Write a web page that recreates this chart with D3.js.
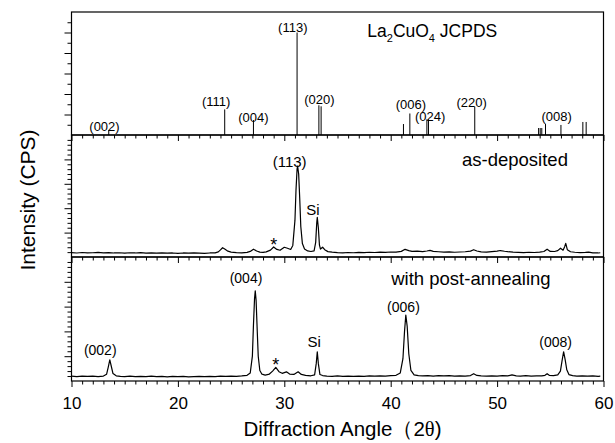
<!DOCTYPE html>
<html><head><meta charset="utf-8">
<script src="https://cdn.jsdelivr.net/npm/d3@7"></script>
<style>body{margin:0;background:#fff}svg{display:block;font-family:"Liberation Sans",Arial,sans-serif}</style>
</head><body><svg id="c" width="615" height="443"></svg>
<script>
// ---- data ----
const xTickLabels = [10, 20, 30, 40, 50, 60];
// JCPDS stick pattern: [2theta, relative intensity]
const jcpdsSticks = [[13.5,4.9],[24.4,25],[27.1,14.6],[31.2,100],[33.25,29],[33.46,28],[41.2,10.7],[41.8,21],
  [43.4,15.3],[43.55,15.3],[47.9,27.6],[53.9,6.8],[54.05,6.8],[54.2,6.8],[54.55,10.7],[56.0,9.8],[58.06,12.7],[58.37,12.7]];
const jcpdsLabels = [["(002)",13.1,3.9],["(111)",23.6,28.3],["(004)",27.1,13],["(113)",30.8,100.5],["(020)",33.3,30.2],
  ["(006)",41.9,25.4],["(024)",43.7,14],["(220)",47.6,27.6],["(008)",55.6,14]];
// as-deposited pattern
const asDeposited = [[10.0,3.6],[10.5,3.3],[11.0,3.7],[11.5,3.4],[12.0,3.5],[12.5,3.8],[13.0,3.4],[13.5,3.6],[14.0,3.3],[14.5,3.5],
  [15.0,3.2],[15.5,3.5],[16.0,3.3],[16.5,3.6],[17.0,3.2],[17.5,3.4],[18.0,3.1],[18.5,3.4],[19.0,3.2],[19.5,3.3],[20.0,3.0],
  [20.5,3.3],[21.0,3.1],[21.5,3.4],[22.0,3.2],[22.5,3.0],[23.0,3.3],[23.5,3.4],[23.8,4.2],[24.0,5.8],[24.2,7.6],[24.4,6.5],
  [24.7,4.8],[25.0,4.0],[25.5,3.6],[26.0,3.4],[26.5,3.8],[26.8,4.6],[27.1,6.4],[27.4,4.9],[27.7,4.0],[28.0,3.8],[28.3,4.2],
  [28.7,5.6],[29.0,8.2],[29.3,6.2],[29.6,5.5],[30.0,8.0],[30.3,7.2],[30.6,6.2],[30.8,9.5],[31.0,30],[31.1,55],[31.2,72],
  [31.25,74.6],[31.35,68],[31.45,48],[31.55,25],[31.7,11],[31.9,6.5],[32.2,5.0],[32.5,4.5],[32.8,5.0],[32.95,12],[33.05,28],
  [33.1,32.5],[33.2,24],[33.3,10],[33.4,6.5],[33.6,8.0],[33.8,6.0],[34.1,4.4],[34.5,4.0],[35.0,3.6],[35.5,3.4],[36.0,3.7],
  [36.5,3.5],[37.0,3.8],[37.5,3.6],[38.0,3.9],[38.5,3.7],[39.0,4.0],[39.5,3.8],[40.0,4.1],[40.5,4.0],[41.0,4.6],[41.35,6.3],
  [41.7,5.2],[42.0,4.6],[42.5,4.8],[43.0,4.4],[43.4,4.9],[43.7,5.4],[44.0,4.6],[44.5,4.3],[45.0,4.0],[45.5,4.2],[46.0,3.9],
  [46.5,4.1],[47.0,4.3],[47.5,4.8],[47.8,6.0],[48.1,4.9],[48.5,4.2],[49.0,4.0],[49.5,4.4],[50.0,4.8],[50.3,5.3],[50.7,4.7],
  [51.0,4.4],[51.5,4.0],[52.0,3.8],[52.5,3.6],[53.0,3.9],[53.5,3.7],[54.0,4.0],[54.4,4.5],[54.7,6.4],[55.0,4.6],[55.4,4.5],
  [55.7,5.2],[55.96,7.2],[56.2,5.6],[56.35,8.5],[56.45,11.2],[56.6,6.0],[56.9,4.3],[57.3,3.9],[57.8,3.6],[58.3,3.8],[58.6,4.0],
  [59.0,3.4],[59.5,3.3],[59.7,3.5]];
const asDepositedLabels = [["(113)",30.5,74,15],["Si",32.7,34.4,15],["*",29.0,5.0,18]];
// post-annealed pattern
const postAnnealed = [[10.0,3.9],[10.5,3.6],[11.0,4.0],[11.5,3.7],[12.0,3.9],[12.5,3.6],[13.0,4.0],[13.3,5.5],[13.45,11],[13.6,17],
  [13.75,11.5],[13.9,6.0],[14.2,4.2],[14.6,3.8],[15.0,3.6],[15.5,3.9],[16.0,3.5],[16.5,3.8],[17.0,3.6],[17.5,3.9],[18.0,3.5],
  [18.5,3.7],[19.0,3.4],[19.5,3.8],[20.0,3.5],[20.5,3.7],[21.0,3.4],[21.5,3.6],[22.0,3.8],[22.5,3.5],[23.0,3.7],[23.5,3.6],
  [24.0,3.9],[24.5,3.7],[25.0,4.0],[25.5,3.8],[26.0,4.1],[26.5,4.6],[26.8,6.5],[27.0,20],[27.1,45],[27.2,66],[27.27,72.8],
  [27.35,65],[27.45,42],[27.55,20],[27.7,8.5],[27.9,5.5],[28.2,4.8],[28.6,5.6],[28.9,8.0],[29.2,11.0],[29.5,7.5],[29.8,6.2],
  [30.2,7.4],[30.5,5.6],[30.9,5.3],[31.3,7.4],[31.6,5.3],[32.0,4.5],[32.5,4.2],[32.85,5.0],[33.0,14],[33.1,23.6],[33.2,14],
  [33.35,5.2],[33.6,4.4],[34.0,4.0],[34.5,3.8],[35.0,4.1],[35.5,3.8],[36.0,4.0],[36.5,3.7],[37.0,4.0],[37.5,3.8],[38.0,4.1],
  [38.5,3.9],[39.0,4.2],[39.5,4.0],[40.0,4.3],[40.5,4.6],[40.9,6.5],[41.15,18],[41.3,40],[41.42,53.2],[41.55,44],[41.7,22],
  [41.9,8.5],[42.2,5.0],[42.6,4.3],[43.0,4.1],[43.5,4.4],[44.0,4.0],[44.5,4.3],[45.0,4.1],[45.5,4.3],[46.0,4.0],[46.5,4.2],
  [47.0,4.0],[47.5,4.4],[47.8,5.9],[48.1,4.5],[48.5,4.2],[49.0,4.0],[49.5,4.2],[50.0,4.0],[50.5,4.3],[51.0,4.1],[51.4,4.9],
  [51.8,4.2],[52.2,4.0],[52.7,4.3],[53.2,4.0],[53.7,4.2],[54.2,4.1],[54.5,4.6],[54.7,5.9],[54.9,4.6],[55.3,4.4],[55.7,5.0],
  [55.95,8.0],[56.1,16],[56.25,23.6],[56.4,17],[56.55,9],[56.75,5.2],[57.1,4.3],[57.5,4.0],[58.0,4.2],[58.5,3.9],[59.0,4.1],
  [59.5,3.8],[59.7,3.9]];
const postAnnealedLabels = [["(002)",12.7,21,14],["(004)",26.4,78.8,14],["*",29.2,8.2,18],["Si",32.8,27.7,15],
  ["(006)",41.2,55.9,14],["(008)",55.5,27.7,14]];
const panelTitles = ["JCPDS","as-deposited","with post-annealing"];

// ---- layout ----
const svg = d3.select("#c");
const L = 71.5, R = 603.5;
const x = d3.scaleLinear().domain([10, 60]).range([L, R]);
const panels = [
  {top: 12, bottom: 135, ymax: 120, major: 20, minor: 10},
  {top: 135, bottom: 257, ymax: 100, major: 20, minor: 4},
  {top: 257, bottom: 381, ymax: 100, major: 20, minor: 4}
];
panels.forEach(p => { p.y = d3.scaleLinear().domain([0, p.ymax]).range([p.bottom, p.top]); });

const minorX = d3.range(10, 61, 1);
panels.forEach((p, i) => {
  const g = svg.append("g");
  const yMinor = d3.range(p.minor, p.ymax, p.minor).filter(v => v % p.major !== 0);
  const yMajor = d3.range(p.major, p.ymax, p.major);
  g.append("g").attr("transform", `translate(${L},0)`)
    .call(d3.axisLeft(p.y).tickValues(yMinor).tickSize(4).tickSizeOuter(0).tickFormat(""));
  g.append("g").attr("transform", `translate(${L},0)`)
    .call(d3.axisLeft(p.y).tickValues(yMajor).tickSize(7).tickSizeOuter(0).tickFormat(""));
  g.append("g").attr("transform", `translate(0,${p.bottom})`)
    .call(d3.axisBottom(x).tickValues(minorX.filter(v => v % 10 !== 0)).tickSize(3.5).tickSizeOuter(0).tickFormat(""));
  const xMaj = g.append("g").attr("transform", `translate(0,${p.bottom})`)
    .call(d3.axisBottom(x).tickValues(xTickLabels).tickSize(6).tickSizeOuter(0)
      .tickFormat(i === 2 ? d3.format("d") : ""));
  xMaj.selectAll("text").attr("font-size", 17).attr("dy", 0).attr("y", 28).attr("fill", "#000")
    .attr("font-family", "Liberation Sans, Arial, sans-serif");
  g.selectAll(".domain").remove();
  g.selectAll(".tick line").attr("stroke", "#000").attr("stroke-width", 1);
  g.append("rect").attr("x", L).attr("y", p.top).attr("width", R - L).attr("height", p.bottom - p.top)
    .attr("fill", "none").attr("stroke", "#000").attr("stroke-width", 1.2);
});

// top: stick pattern
const p0 = panels[0];
svg.append("g").selectAll("line").data(jcpdsSticks).join("line")
  .attr("x1", d => x(d[0])).attr("x2", d => x(d[0]))
  .attr("y1", p0.y(0)).attr("y2", d => p0.y(d[1]))
  .attr("stroke", "#000").attr("stroke-width", 1);
svg.append("g").selectAll("text").data(jcpdsLabels).join("text")
  .attr("x", d => x(d[1])).attr("y", d => p0.y(d[2])).attr("text-anchor", "middle")
  .attr("font-size", 13).text(d => d[0]);
const t0 = svg.append("text").attr("x", x(37.8)).attr("y", p0.y(95.9)).attr("font-size", 17.5);
t0.append("tspan").text("La");
t0.append("tspan").attr("font-size", 11).attr("dy", 5).text("2");
t0.append("tspan").attr("dy", -5).text("CuO");
t0.append("tspan").attr("font-size", 11).attr("dy", 5).text("4");
t0.append("tspan").attr("dy", -5).text(" " + panelTitles[0]);

// curves
const drawCurve = (p, data, labels, title, tx, ty) => {
  const line = d3.line().x(d => x(d[0])).y(d => p.y(d[1]));
  svg.append("path").datum(data).attr("d", line).attr("fill", "none")
    .attr("stroke", "#000").attr("stroke-width", 1.2).attr("stroke-linejoin", "round");
  svg.append("g").selectAll("text").data(labels).join("text")
    .attr("x", d => x(d[1])).attr("y", d => p.y(d[2])).attr("text-anchor", "middle")
    .attr("font-size", d => d[3]).text(d => d[0]);
  svg.append("text").attr("x", x(tx)).attr("y", p.y(ty)).attr("font-size", 18.5).text(title);
};
drawCurve(panels[1], asDeposited, asDepositedLabels, panelTitles[1], 46.7, 74.6);
drawCurve(panels[2], postAnnealed, postAnnealedLabels, panelTitles[2], 40.05, 77.4);

// axis titles
const xt = svg.append("text").attr("x", (L + R) / 2 + 5).attr("y", 436).attr("text-anchor", "middle")
  .attr("font-size", 20.5);
xt.append("tspan").text("Diffraction Angle（2");
xt.append("tspan").attr("font-family", "Liberation Serif, Times New Roman, serif").text("θ");
xt.append("tspan").text(")");
svg.append("text").attr("transform", "translate(35,200) rotate(-90)").attr("text-anchor", "middle")
  .attr("font-size", 21).text("Intensity (CPS)");
</script></body></html>
